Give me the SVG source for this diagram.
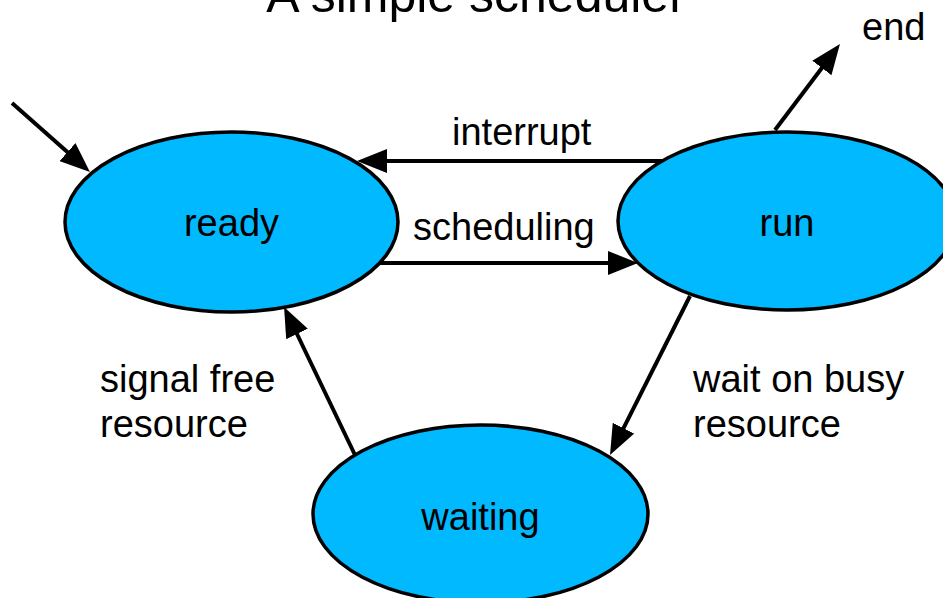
<svg xmlns="http://www.w3.org/2000/svg" width="943" height="598" viewBox="0 0 943 598">
<style>
.state ellipse{fill:#00B9FF;stroke:#000;stroke-width:3.5}
text{font-family:"Liberation Sans",Arial,sans-serif;font-size:38px;fill:#000}
.c{text-anchor:middle}
.edges line{stroke:#000;stroke-width:4;marker-end:url(#ah)}
</style>
<defs>
<marker id="ah" markerUnits="userSpaceOnUse" markerWidth="30" markerHeight="24" viewBox="0 0 30 24" refX="10" refY="12" orient="auto">
<path d="M0,0 L30,12 L0,24 z" fill="#000"/>
</marker>
</defs>
<rect width="943" height="598" fill="#fff"/>
<text x="476" y="12" class="c" style="font-size:50px">A simple scheduler</text>
<g id="ready" class="state"><ellipse cx="231.5" cy="222" rx="166.5" ry="90"/><text x="231.5" y="236" class="c">ready</text></g>
<g id="run" class="state"><ellipse cx="787" cy="221" rx="169" ry="89"/><text x="787" y="236" class="c">run</text></g>
<g id="waiting" class="state"><ellipse cx="480.5" cy="514" rx="167.5" ry="89"/><text x="480.5" y="530" class="c">waiting</text></g>
<g class="edges">
<line x1="12" y1="103" x2="75" y2="158.7"/>
<line x1="662" y1="161" x2="377" y2="161"/>
<line x1="380" y1="263" x2="618" y2="263"/>
<line x1="775" y1="130" x2="827.9" y2="60"/>
<line x1="690" y1="296" x2="619" y2="437.1"/>
<line x1="355" y1="455" x2="292.7" y2="325"/>
</g>
<g id="labels">
<text x="452" y="145">interrupt</text>
<text x="413" y="240">scheduling</text>
<text x="862" y="40">end</text>
<text x="100" y="392">signal free</text>
<text x="100" y="437">resource</text>
<text x="693" y="392">wait on busy</text>
<text x="693" y="437">resource</text>
</g>
</svg>
